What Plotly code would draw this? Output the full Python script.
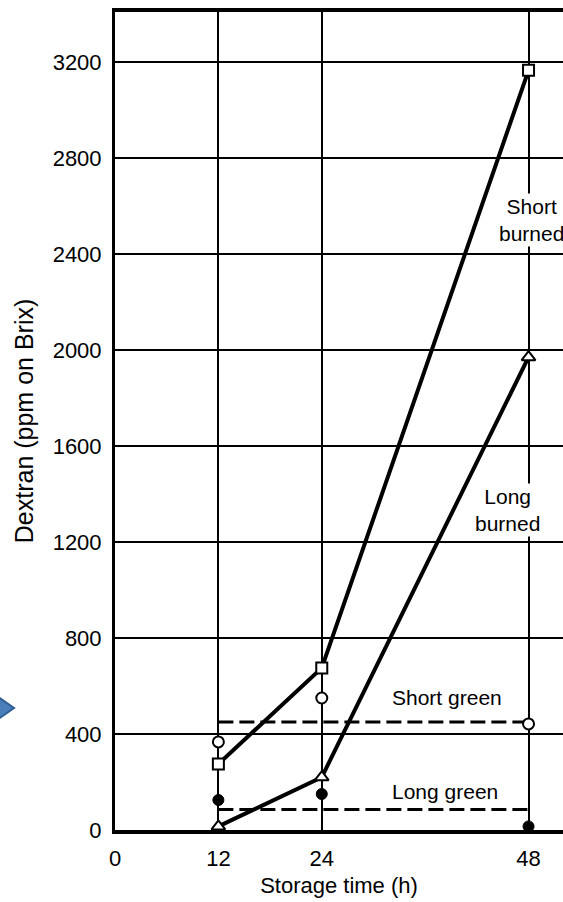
# Dextran build-up in stored cane: burned vs green, short vs long
import plotly.graph_objects as go

# data
hours = [12, 24, 48]
short_burned = [275, 675, 3165]
long_burned = [15, 220, 1970]
short_green = [367, 550, 442]
long_green = [125, 150, 15]
short_green_mean = 450
long_green_mean = 85

x_ticks = [0, 12, 24, 48]
y_ticks = [0, 400, 800, 1200, 1600, 2000, 2400, 2800, 3200]

FONT = "Liberation Sans, Arial, sans-serif"

fig = go.Figure()

# dashed lines for the green cane
fig.add_trace(go.Scatter(x=[hours[0], hours[-1]], y=[short_green_mean, short_green_mean],
                         mode='lines', line=dict(color='black', width=3, dash='15px,6px')))
fig.add_trace(go.Scatter(x=[hours[0], hours[-1]], y=[long_green_mean, long_green_mean],
                         mode='lines', line=dict(color='black', width=3, dash='15px,6px')))

# solid lines for the burned cane
fig.add_trace(go.Scatter(x=hours, y=short_burned, mode='lines',
                         line=dict(color='black', width=4)))
fig.add_trace(go.Scatter(x=hours, y=long_burned, mode='lines',
                         line=dict(color='black', width=4)))

# markers on top
fig.add_trace(go.Scatter(x=hours, y=short_burned, mode='markers',
                         marker=dict(symbol='square', size=11, color='white',
                                     line=dict(color='black', width=2))))
fig.add_trace(go.Scatter(x=hours, y=long_burned, mode='markers',
                         marker=dict(symbol='triangle-up', size=12, color='white',
                                     line=dict(color='black', width=2))))
fig.add_trace(go.Scatter(x=hours, y=short_green, mode='markers',
                         marker=dict(symbol='circle', size=11, color='white',
                                     line=dict(color='black', width=2))))
fig.add_trace(go.Scatter(x=hours, y=long_green, mode='markers',
                         marker=dict(symbol='circle', size=11, color='black',
                                     line=dict(color='black', width=1))))

labels = [
    (48.4, 2540, "Short<br>burned"),
    (45.6, 1335, "Long<br>burned"),
    (38.5, 550, "Short green"),
    (38.3, 160, "Long green"),
]
for lx, ly, txt in labels:
    fig.add_annotation(x=lx, y=ly, text=txt, showarrow=False, bgcolor='white',
                       font=dict(size=21, color='black', family=FONT), borderpad=1)

# blue chevron cut by the left edge of the page
fig.add_shape(type='path', xref='paper', yref='paper',
              path='M -0.27 0.166 L -0.2254 0.1491 L -0.27 0.132 Z',
              fillcolor='#4a7ebb', line=dict(color='#2f5f96', width=2))

fig.update_layout(
    width=563, height=902,
    margin=dict(l=115, r=0, t=12, b=72),
    plot_bgcolor='white', paper_bgcolor='white',
    showlegend=False,
    font=dict(family=FONT, color='black', size=22),
)
fig.update_xaxes(
    range=[0, 52], tickvals=x_ticks, ticktext=[str(v) for v in x_ticks],
    showgrid=True, gridcolor='black', gridwidth=2, zeroline=False,
    showline=True, linecolor='black', linewidth=4, mirror=True,
    ticks='', ticklabelstandoff=6,
    title=dict(text='Storage time (h)', font=dict(size=22), standoff=8),
)
fig.update_yaxes(
    range=[0, 3408], tickvals=y_ticks,
    showgrid=True, gridcolor='black', gridwidth=2, zeroline=False,
    showline=True, linecolor='black', linewidth=3,
    ticks='', ticklabelstandoff=6,
    title=dict(text='Dextran (ppm on Brix)', font=dict(size=25), standoff=12),
)

# drop the default 8px body margin so the figure fills the window
fig.write_html("out.html", config={'displayModeBar': False},
               post_script="document.body.style.margin='0px';")
